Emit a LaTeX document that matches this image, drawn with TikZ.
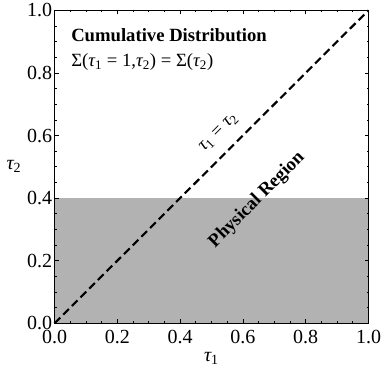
\documentclass[tikz,border=0pt]{standalone}
\usepackage{fontspec}
\setmainfont{Liberation Serif}
\newcommand\tu{{\itshape τ}}
\newcommand\sbs[1]{\textsubscript{#1}}
\definecolor{physgray}{gray}{0.70}
\tikzset{
  ticklab/.style={font=\fontsize{15}{17}\selectfont, inner sep=1pt},
  axlab/.style={font=\fontsize{15}{17}\selectfont, inner sep=0pt},
  boldlab/.style={font=\fontsize{14}{16}\selectfont\bfseries, inner sep=0pt},
  plainlab/.style={font=\fontsize{14}{16}\selectfont, inner sep=0pt},
  diagline/.style={line width=1.6pt, dash pattern=on 6pt off 3.2pt},
  framebox/.style={line width=0.7pt},
  tickline/.style={line width=0.5pt}
}
\begin{document}
\begin{tikzpicture}[x=0.75pt,y=-0.75pt]
\useasboundingbox (0,0) rectangle (382,377);
\begin{scope}[shift={(54.5,323.3)},x=235.5pt,y=234.75pt]
  \fill[physgray] (0,0) rectangle (1,0.4);
  \coordinate (o) at (0,0);
  \coordinate (e) at (1,1);
  \draw[diagline] (o) -- (e);
  \foreach \i in {1,...,19}{
    \draw[tickline] (\i/20,0) -- ++(0,1.5pt);
    \draw[tickline] (\i/20,1) -- ++(0,-1.5pt);
    \draw[tickline] (0,\i/20) -- ++(1.5pt,0);
    \draw[tickline] (1,\i/20) -- ++(-1.5pt,0);
  }
  \foreach \i in {1,...,4}{
    \draw[tickline] (\i/5,0) -- ++(0,3pt);
    \draw[tickline] (\i/5,1) -- ++(0,-3pt);
    \draw[tickline] (0,\i/5) -- ++(3pt,0);
    \draw[tickline] (1,\i/5) -- ++(-3pt,0);
  }
  \foreach \i/\l in {0/0.0,1/0.2,2/0.4,3/0.6,4/0.8,5/1.0}{
    \node[ticklab, anchor=north, yshift=-4pt] (bx\i) at (\i/5,0) {\l};
    \node[ticklab, anchor=east, xshift=-0.5pt] (ly\i) at (0,\i/5) {\l};
  }
  \draw[framebox] (0,0) rectangle (1,1);
\end{scope}
\node[axlab] (xlab) at (211.5,358) {\tu\sbs{1}};
\node[axlab] (ylab) at (14,166) {\tu\sbs{2}};
\node[boldlab, anchor=base west] (title) at (71,42) {Cumulative Distribution};
\node[plainlab, anchor=base west] (formula) at (71,67) {Σ(\tu\sbs{1} = 1,\tu\sbs{2}) = Σ(\tu\sbs{2})};
\node[plainlab, rotate=45] (eqlab) at (219,133) {\tu\sbs{1} = \tu\sbs{2}};
\node[boldlab, rotate=45] (phys) at (257,200) {Physical Region};
\end{tikzpicture}
\end{document}
